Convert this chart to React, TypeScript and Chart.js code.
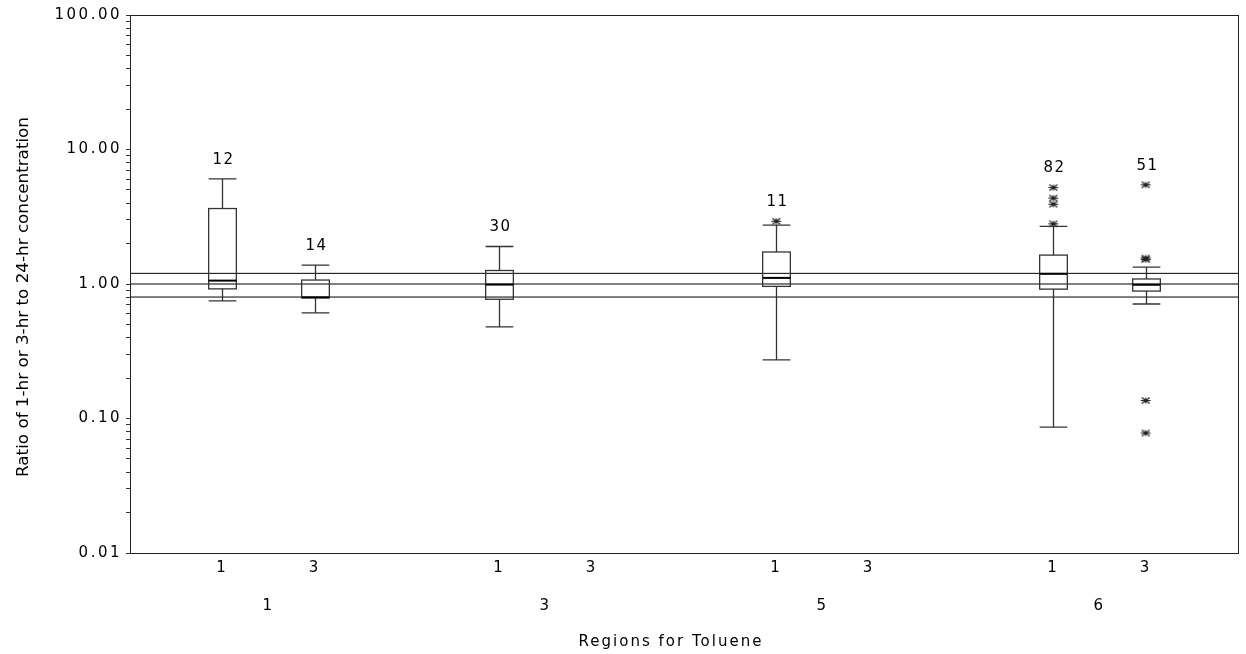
import React, { useEffect, useRef } from 'react';
import { Chart, registerables } from 'chart.js';

Chart.register(...registerables);

// ---- data ----
const regionLabels = ['1', '3', '5', '6'];
const durationLabels = ['1', '3'];
const yTickValues = [0.01, 0.1, 1, 10, 100];
const refLines = [0.8, 1.0, 1.2];

const boxRegion = [0, 0, 1, 2, 3, 3];
const boxDuration = [0, 1, 0, 0, 0, 1];
const counts = [12, 14, 30, 11, 82, 51];
const whiskerLow = [0.75, 0.61, 0.48, 0.273, 0.0864, 0.71];
const q1 = [0.92, 0.79, 0.77, 0.96, 0.916, 0.886];
const median = [1.06, 0.795, 0.99, 1.11, 1.19, 0.987];
const q3 = [3.64, 1.07, 1.26, 1.73, 1.64, 1.09];
const whiskerHigh = [6.05, 1.38, 1.9, 2.74, 2.68, 1.335];
const outliers: number[][] = [
  [],
  [],
  [],
  [2.93],
  [5.21, 4.35, 3.92, 2.8],
  [5.46, 1.56, 1.52, 0.136, 0.078],
];

const xTitle = 'Regions for Toluene';
const yTitle = 'Ratio of 1-hr or 3-hr to 24-hr concentration';

// ---- helpers ----
const slot = (r: number, d: number) => r * 3 + d;
const boxX = boxRegion.map((r, i) => slot(r, boxDuration[i]));

function makeStar(): HTMLCanvasElement {
  const c = document.createElement('canvas');
  c.width = 12;
  c.height = 9;
  const g = c.getContext('2d')!;
  g.strokeStyle = '#222';
  g.lineWidth = 1.2;
  g.beginPath();
  g.moveTo(1, 4.5); g.lineTo(11, 4.5);
  g.moveTo(2, 1.5); g.lineTo(10, 7.5);
  g.moveTo(2, 7.5); g.lineTo(10, 1.5);
  g.moveTo(6, 1.5); g.lineTo(6, 7.5);
  g.stroke();
  return c;
}

const FONT = "'DejaVu Sans', sans-serif";
const SPACING = '2.5px';

export default function App() {
  const ref = useRef<HTMLCanvasElement>(null);

  useEffect(() => {
    const canvas = ref.current!;
    const star = makeStar();

    const outlierPoints: { x: number; y: number }[] = [];
    outliers.forEach((arr, i) => arr.forEach(v => outlierPoints.push({ x: boxX[i], y: v })));

    const refDatasets = refLines.map(v => ({
      type: 'line' as const,
      data: [{ x: -1, y: v }, { x: 11, y: v }],
      borderColor: '#000',
      borderWidth: 1,
      pointRadius: 0,
      xAxisID: 'x',
      yAxisID: 'y',
    }));

    const boxPlugin = {
      id: 'boxes',
      beforeDraw(chart: any) {
        chart.ctx.letterSpacing = SPACING;
      },
      afterDatasetsDraw(chart: any) {
        const { ctx, scales } = chart;
        const xs = scales.x;
        const ys = scales.y;
        const half = (xs.getPixelForValue(0.15) - xs.getPixelForValue(0));
        ctx.save();
        for (let i = 0; i < boxX.length; i++) {
          const cx = Math.round(xs.getPixelForValue(boxX[i])) + 0.5;
          const yL = ys.getPixelForValue(whiskerLow[i]);
          const y1 = ys.getPixelForValue(q1[i]);
          const yM = ys.getPixelForValue(median[i]);
          const y3 = ys.getPixelForValue(q3[i]);
          const yH = ys.getPixelForValue(whiskerHigh[i]);
          ctx.strokeStyle = '#333';
          ctx.lineWidth = 1.3;
          ctx.beginPath();
          // whiskers
          ctx.moveTo(cx, y3); ctx.lineTo(cx, yH);
          ctx.moveTo(cx - half, yH); ctx.lineTo(cx + half, yH);
          ctx.moveTo(cx, y1); ctx.lineTo(cx, yL);
          ctx.moveTo(cx - half, yL); ctx.lineTo(cx + half, yL);
          ctx.stroke();
          // box
          ctx.strokeRect(cx - half, y3, 2 * half, y1 - y3);
          // median
          ctx.strokeStyle = '#000';
          ctx.lineWidth = 2;
          ctx.beginPath();
          ctx.moveTo(cx - half, yM); ctx.lineTo(cx + half, yM);
          ctx.stroke();
          // count label
          const top = Math.max(whiskerHigh[i], ...outliers[i]);
          const ty = ys.getPixelForValue(top) - 19;
          ctx.fillStyle = '#000';
          ctx.font = `15px ${FONT}`;
          ctx.letterSpacing = '1.5px';
          ctx.textAlign = 'center';
          ctx.textBaseline = 'middle';
          ctx.fillText(String(counts[i]), cx + 1, ty);
        }
        ctx.restore();
      },
      afterDraw(chart: any) {
        const { ctx, chartArea } = chart;
        ctx.save();
        ctx.strokeStyle = '#222';
        ctx.lineWidth = 1;
        ctx.strokeRect(chartArea.left + 0.5, chartArea.top + 0.5, chartArea.right - chartArea.left, chartArea.bottom - chartArea.top);
        // x title
        ctx.fillStyle = '#000';
        ctx.letterSpacing = '2px';
        ctx.font = `15px ${FONT}`;
        ctx.textAlign = 'center';
        ctx.textBaseline = 'middle';
        ctx.fillText(xTitle, 671, 642);
        // y title
        ctx.letterSpacing = '0px';
        ctx.font = `16px ${FONT}`;
        const w = ctx.measureText(yTitle).width;
        const target = 360;
        ctx.translate(28, 297);
        ctx.rotate(-Math.PI / 2);
        ctx.scale(target / w, 1);
        ctx.textAlign = 'center';
        ctx.textBaseline = 'alphabetic';
        ctx.fillText(yTitle, 0, 0);
        ctx.restore();
      },
    };

    const yTicks: number[] = [];
    for (let k = 0; k < yTickValues.length - 1; k++) {
      for (let m = 1; m <= 9; m++) yTicks.push(m === 1 ? yTickValues[k] : m * yTickValues[k]);
    }
    yTicks.push(yTickValues[yTickValues.length - 1]);

    const chart = new Chart(canvas, {
      type: 'scatter',
      data: {
        datasets: [
          ...refDatasets,
          {
            type: 'scatter' as const,
            data: outlierPoints,
            pointStyle: star as any,
            pointRadius: 5,
            xAxisID: 'x',
            yAxisID: 'y',
          },
        ] as any,
      },
      options: {
        animation: false,
        responsive: false,
        maintainAspectRatio: false,
        devicePixelRatio: 1,
        layout: { padding: { top: 15, right: 8, left: 0, bottom: 0 } },
        plugins: { legend: { display: false }, tooltip: { enabled: false } },
        scales: {
          y: {
            type: 'logarithmic',
            position: 'left',
            min: 0.01,
            max: 100,
            afterBuildTicks: (s: any) => {
              s.ticks = yTicks.map(v => ({ value: v }));
            },
            afterFit: (s: any) => {
              s.width = 130;
            },
            ticks: {
              autoSkip: false,
              color: '#000',
              padding: 4,
              font: { family: FONT, size: 15 },
              callback: (value: any) => {
                const v = Number(value);
                return yTickValues.some(t => Math.abs(t - v) / t < 1e-6) ? v.toFixed(2) : '';
              },
            },
            grid: { display: true, drawOnChartArea: false, drawTicks: true, tickLength: 4, color: '#333' },
            border: { display: true, color: '#222' },
          },
          x: {
            type: 'linear',
            position: 'bottom',
            weight: 0,
            min: -1,
            max: 11,
            afterBuildTicks: (s: any) => {
              const t: { value: number }[] = [];
              regionLabels.forEach((_, r) => durationLabels.forEach((__, d) => t.push({ value: slot(r, d) })));
              s.ticks = t;
            },
            afterFit: (s: any) => {
              s.height = 30;
            },
            ticks: {
              autoSkip: false,
              maxRotation: 0,
              color: '#000',
              padding: 6,
              font: { family: FONT, size: 15 },
              callback: (value: any) => durationLabels[Math.round(Number(value)) % 3] ?? '',
            },
            grid: { display: false, drawTicks: false },
            border: { display: true, color: '#222' },
          },
          x2: {
            type: 'linear',
            position: 'bottom',
            weight: 1,
            min: -1,
            max: 11,
            afterBuildTicks: (s: any) => {
              s.ticks = regionLabels.map((_, r) => ({ value: slot(r, 0) + 0.5 }));
            },
            afterFit: (s: any) => {
              s.height = 71;
            },
            ticks: {
              autoSkip: false,
              maxRotation: 0,
              color: '#000',
              padding: 14,
              font: { family: FONT, size: 15 },
              callback: (value: any) => regionLabels[Math.round((Number(value) - 0.5) / 3)] ?? '',
            },
            grid: { display: false, drawTicks: false },
            border: { display: false },
          },
        },
      } as any,
      plugins: [boxPlugin],
    });

    return () => chart.destroy();
  }, []);

  return (
    <div style={{ position: 'fixed', left: 0, top: 0, width: 1246, height: 654, background: '#fff' }}>
      <canvas ref={ref} width={1246} height={654} />
    </div>
  );
}
